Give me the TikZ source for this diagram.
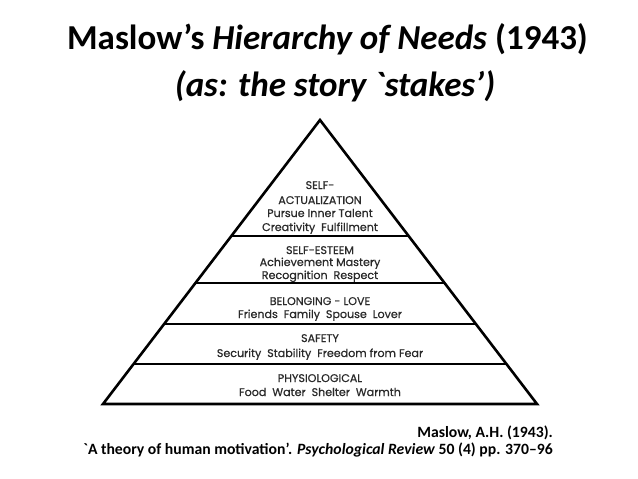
\documentclass[tikz,border=0pt]{standalone}
\usepackage{fontspec}
\newfontfamily\cfont{Carlito}
\newfontfamily\pyrfont{Poppins}[FakeBold=0.6]
\usetikzlibrary{calc}
\definecolor{txtgray}{HTML}{2a2a2a}
\begin{document}
\begin{tikzpicture}[x=1pt,y=-1pt,
  pyr/.style={line width=2.6pt, line join=miter, draw=black},
  divline/.style={line width=2.6pt, draw=black, line cap=butt},
  ttl/.style={font=\cfont\bfseries\fontsize{35}{40}\selectfont, anchor=base, inner sep=0},
  cite/.style={font=\cfont\bfseries\fontsize{15.7}{18}\selectfont, anchor=base east, inner sep=0},
  bandtxt/.style={font=\pyrfont\fontsize{11.1}{13}\selectfont, text=txtgray, anchor=base, inner sep=0}
]
\useasboundingbox (0,0) rectangle (638,479);
\fill[white] (0,0) rectangle (638,479);

% title
\node[ttl] (title1) at (327.5,49) {Maslow’s \textit{Hierarchy of Needs} (1943)};
\node[ttl] (title2) at (335,96) {\textit{(as: the story `stakes’)}};

% pyramid
\coordinate (A) at (320,120);
\coordinate (L) at (103,404);
\coordinate (R) at (537,404);
\draw[pyr] (A) -- (L) -- (R) -- cycle;
\foreach \t/\n in {0.4085/a,0.574/b,0.718/c,0.859/d}{
  \coordinate (l\n) at ($(A)!\t!(L)$);
  \coordinate (r\n) at ($(A)!\t!(R)$);
  \draw[divline] (l\n) -- (r\n);
}

% band texts
\node[bandtxt] (sa1) at (320,189) {SELF-};
\node[bandtxt] (sa2) at (320,204) {ACTUALIZATION};
\node[bandtxt] (sa3) at (320,217) {Pursue Inner Talent};
\node[bandtxt] (sa4) at (320,231) {Creativity\ \ Fulfillment};

\node[bandtxt] (se1) at (320,254) {SELF-ESTEEM};
\node[bandtxt] (se2) at (320,266) {Achievement Mastery};
\node[bandtxt] (se3) at (320,279) {Recognition\ \ Respect};

\node[bandtxt] (bl1) at (320,305) {BELONGING - LOVE};
\node[bandtxt] (bl2) at (320,318) {Friends\ \ Family\ \ Spouse\ \ Lover};

\node[bandtxt] (sf1) at (320,342) {SAFETY};
\node[bandtxt] (sf2) at (320,357) {Security\ \ Stability\ \ Freedom from Fear};

\node[bandtxt] (ph1) at (320,382) {PHYSIOLOGICAL};
\node[bandtxt] (ph2) at (320,396) {Food\ \ Water\ \ Shelter\ \ Warmth};

% citation
\node[cite] (c1) at (553,437) {Maslow, A.H. (1943).};
\node[cite] (c2) at (553,454) {`A theory of human motivation’. \textit{Psychological Review} 50 (4) pp. 370–96};
\end{tikzpicture}
\end{document}
